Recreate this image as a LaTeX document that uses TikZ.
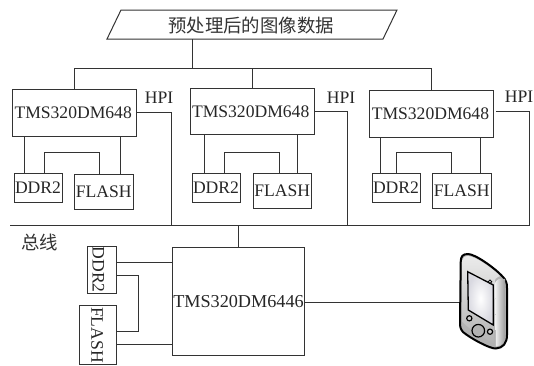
\documentclass[tikz,border=0pt]{standalone}
\usepackage{fontspec}
\setmainfont{Liberation Serif}
\newfontfamily\cjk{Noto Sans CJK SC}
\begin{document}
\begin{tikzpicture}[x=1pt,y=-1pt,
  every node/.style={inner sep=0pt,outer sep=0pt},
  ln/.style={line width=1pt,draw=black!80},
  txt/.style={font=\fontsize{17.6}{19}\selectfont,text=black!85},
  boxa/.style={ln,txt,minimum width=124pt,minimum height=46.5pt,text width=120pt,align=left},
  ddrbox/.style={ln,txt,minimum width=48pt,minimum height=28.5pt},
  flashbox/.style={ln,txt,minimum width=58.5pt,minimum height=35pt},
  lab/.style={txt},
  cjklab/.style={font=\cjk\fontsize{18.4}{20}\selectfont,text=black!80}]
\useasboundingbox (0,0) rectangle (534,365);
% input
\coordinate (pa) at (121,10);\coordinate (pb) at (397,10);\coordinate (pc) at (383,39);\coordinate (pd) at (107,39);
\draw[ln] (pa)--(pb)--(pc)--(pd)--cycle;
\node[cjklab] (title) at (251,25) {预处理后的图像数据};
% DSPs
\node[boxa] (c1) at (74.5,112.75) {TMS320DM648};
\node[boxa] (c2) at (252,111.5) {TMS320DM648};
\node[boxa] (c3) at (431.75,114) {TMS320DM648};
\node[ddrbox] (d1) at (38,187.75) {DDR2};
\node[flashbox] (f1) at (103.75,191.5) {FLASH};
\node[ddrbox] (d2) at (216,187.75) {DDR2};
\node[flashbox] (f2) at (282.25,190.75) {FLASH};
\node[ddrbox] (d3) at (396,187.75) {DDR2};
\node[flashbox] (f3) at (461.75,190.75) {FLASH};
\node[lab] (h1) at (159,98) {HPI};
\node[lab] (h2) at (341,98) {HPI};
\node[lab] (h3) at (519,97) {HPI};
% distribution
\coordinate (t1) at (192.5,68.5);
\draw[ln] (192.5,39) -- (t1);
\draw[ln] (c1.north) -- (c1.north |- t1) -- (c3.north |- t1) -- (c3.north);
\draw[ln] (c2.north) -- (c2.north |- t1);
% local links
\foreach \n/\a/\b in {1/11.5/108,2/14/107,3/11/110.5}{
  \draw[ln] ([xshift=\a pt]c\n.south west) -- ([xshift=\a pt]c\n.south west |- d\n.north);
  \draw[ln] ([xshift=\b pt]c\n.south west) -- ([xshift=\b pt]c\n.south west |- f\n.north);
}
\draw[ln] ([xshift=30pt]d1.north west) |- (99,152) -- (99,152 |- f1.north);
\draw[ln] ([xshift=32.5pt]d2.north west) |- (279.5,152) -- (279.5,152 |- f2.north);
\draw[ln] ([xshift=24.5pt]d3.north west) |- (451,152) -- (451,152 |- f3.north);
% bus
\coordinate (busL) at (10,225.5);\coordinate (busR) at (529.5,225.5);
\draw[ln] (busL) -- (busR);
\draw[ln] (c1.east) -- (171,112.75) -- (171,225.5);
\draw[ln] (c2.east) -- (347.5,111.5) -- (347.5,225.5);
\draw[ln] ([xshift=2pt,yshift=3pt]c3.east) -- (529.5,111) -- (busR);
\node[cjklab] (bus) at (39.5,242) {总线};
% main
\node[ln,minimum width=132pt,minimum height=107.5pt,font=\fontsize{18.2}{20}\selectfont,text=black!85] (m) at (238.5,301.25) {TMS320DM6446};
\draw[ln] (m.north |- busL) -- (m.north);
\node[ln,minimum width=29pt,minimum height=47.5pt] (dd) at (101.5,269.75) {};
\node[lab,rotate=-90] (ddt) at (98.5,269.75) {DDR2};
\node[ln,minimum width=36.5pt,minimum height=59pt] (ff) at (98,335) {};
\node[lab,rotate=-90] (fft) at (97,335) {FLASH};
\draw[ln] (dd.east |- 0,262) -- (m.west |- 0,262);
\draw[ln] (ff.east |- 0,344.5) -- (m.west |- 0,344.5);
\draw[ln] (dd.east |- 0,275) -- (138,275) -- (138,331) -- (ff.east |- 0,331);
% handheld
\coordinate (hh) at (461,302);
\draw[ln] (m.east |- hh) -- (hh);
\draw[line width=2pt,draw=black,fill=black!30,line join=round]
  (460.7,262) .. controls (460.7,256) and (463,254) .. (468,254) .. controls (475,254) and (495,268) .. (503,277)
  .. controls (506,280) and (507,283) .. (507,288) -- (507,335) .. controls (507,343) and (503,348) .. (496,348.5)
  .. controls (490,349) and (470,338) .. (463,332) .. controls (460.5,329) and (460,327) .. (460,323) -- cycle;
\shade[top color=black!8,bottom color=black!30] (462.5,262) .. controls (462.5,258) and (464,256) .. (468,256) .. controls (475,256) and (492,268) .. (500,276)
  .. controls (496,278) and (494,279) .. (495,283) -- (494,344) .. controls (480,336) and (468,328) .. (462.5,322) -- cycle;
\shade[left color=black!5,right color=black!40] (495,283) .. controls (497,279) and (500,278) .. (505,279) -- (505.5,336) .. controls (505,342) and (501,346) .. (496,346.5) -- cycle;
\shade[draw=black,line width=1.3pt,inner color=white,outer color=blue!20!black!15] (467.7,271.7) -- (493.3,285) -- (493.3,325) -- (468.3,310) -- cycle;
\filldraw[fill=black!30,draw=black,line width=1.2pt] (478.3,330.7) circle (6.3);
\filldraw[fill=black!20,draw=black,line width=1.2pt] (469.3,318.3) circle (2.6);
\filldraw[fill=black!20,draw=black,line width=1.2pt] (490,331.7) circle (2.6);
\filldraw[fill=black!20,draw=black,line width=.8pt] (490,281.7) circle (1.8);
\end{tikzpicture}
\end{document}
